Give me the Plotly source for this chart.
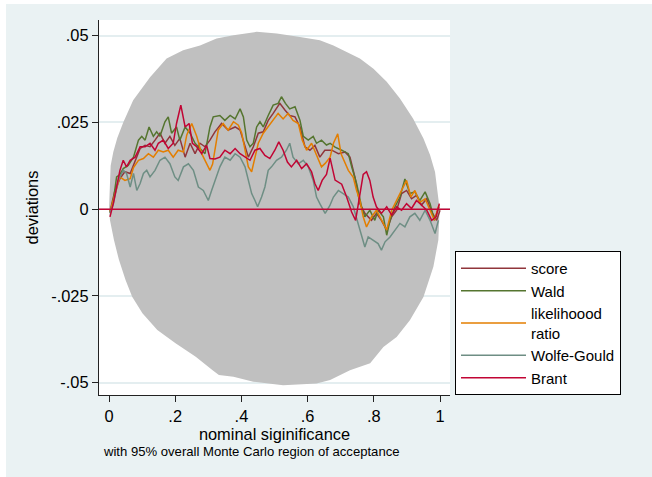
import plotly.graph_objects as go

# ---------------- data ----------------
env_upper_p = [0.000, 0.002, 0.005, 0.013, 0.025, 0.043, 0.073, 0.124, 0.174, 0.224, 0.275, 0.325,
               0.376, 0.446, 0.507, 0.577, 0.637, 0.678, 0.718, 0.758, 0.799, 0.839, 0.879,
               0.919, 0.950, 0.970, 0.985, 0.995, 0.999]
env_upper_v = [0.0000, 0.0080, 0.0125, 0.0165, 0.0205, 0.0250, 0.0314, 0.0380, 0.0434, 0.0458, 0.0472, 0.0492,
               0.0501, 0.0511, 0.0506, 0.0496, 0.0487, 0.0472, 0.0453, 0.0434, 0.0405, 0.0367, 0.0319,
               0.0261, 0.0204, 0.0156, 0.0107, 0.0040, 0.0000]
env_lower_p = [0.000, 0.003, 0.015, 0.030, 0.050, 0.070, 0.101, 0.146, 0.201, 0.262, 0.312, 0.332,
               0.376, 0.436, 0.526, 0.627, 0.668, 0.728, 0.789, 0.829, 0.869, 0.909, 0.950,
               0.980, 0.995, 0.999]
env_lower_v = [0.0000, -0.0032, -0.0089, -0.0146, -0.0204, -0.0252, -0.0300, -0.0348, -0.0386, -0.0425, -0.0463, -0.0478,
               -0.0483, -0.0497, -0.0507, -0.0502, -0.0492, -0.0464, -0.0444, -0.0397, -0.0368, -0.0320, -0.0253,
               -0.0166, -0.0089, 0.0000]

score_p = [0.003, 0.018, 0.033, 0.048, 0.064, 0.079, 0.094, 0.109, 0.124, 0.139, 0.154, 0.169, 0.184,
           0.199, 0.214, 0.230, 0.245, 0.260, 0.275, 0.290, 0.305, 0.320, 0.340, 0.360, 0.381, 0.396,
           0.406, 0.421, 0.436, 0.451, 0.466, 0.481, 0.496, 0.516, 0.532, 0.546, 0.562, 0.577, 0.592,
           0.607, 0.622, 0.637, 0.652, 0.673, 0.693, 0.713, 0.728, 0.743, 0.758, 0.773, 0.793, 0.808,
           0.823, 0.839, 0.854, 0.869, 0.884, 0.899, 0.914, 0.929, 0.944, 0.960, 0.975, 0.990, 1.000]
score_v = [-0.0007, 0.0054, 0.0088, 0.0108, 0.0103, 0.0141, 0.0175, 0.0184, 0.0180, 0.0199, 0.0219, 0.0190, 0.0210,
           0.0184, 0.0204, 0.0150, 0.0190, 0.0160, 0.0190, 0.0180, 0.0199, 0.0223, 0.0247, 0.0228, 0.0237, 0.0228,
           0.0199, 0.0150, 0.0180, 0.0219, 0.0223, 0.0256, 0.0276, 0.0305, 0.0285, 0.0270, 0.0266, 0.0237, 0.0180,
           0.0170, 0.0184, 0.0150, 0.0170, 0.0170, 0.0160, 0.0165, 0.0150, 0.0092, 0.0016, -0.0012, -0.0032, -0.0012,
           -0.0032, -0.0060, -0.0022, -0.0003, 0.0045, 0.0054, 0.0030, 0.0040, 0.0012, 0.0030, -0.0008, -0.0032, -0.0003]

wald_p = [0.003, 0.013, 0.023, 0.033, 0.043, 0.058, 0.074, 0.089, 0.099, 0.109, 0.121, 0.134, 0.144,
          0.154, 0.169, 0.179, 0.189, 0.204, 0.214, 0.230, 0.245, 0.260, 0.275, 0.290, 0.305, 0.315,
          0.335, 0.350, 0.366, 0.381, 0.396, 0.406, 0.416, 0.426, 0.436, 0.446, 0.456, 0.466, 0.481,
          0.496, 0.511, 0.521, 0.533, 0.546, 0.562, 0.577, 0.587, 0.602, 0.617, 0.627, 0.642, 0.657,
          0.668, 0.683, 0.703, 0.723, 0.733, 0.748, 0.763, 0.773, 0.788, 0.803, 0.813, 0.829, 0.839,
          0.849, 0.864, 0.879, 0.894, 0.909, 0.924, 0.939, 0.955, 0.970, 0.983, 0.997]
wald_v = [-0.0010, 0.0025, 0.0093, 0.0100, 0.0117, 0.0126, 0.0150, 0.0199, 0.0210, 0.0199, 0.0237, 0.0210, 0.0223,
          0.0210, 0.0252, 0.0266, 0.0219, 0.0237, 0.0199, 0.0237, 0.0219, 0.0190, 0.0175, 0.0160, 0.0237, 0.0266,
          0.0270, 0.0256, 0.0270, 0.0260, 0.0289, 0.0266, 0.0199, 0.0180, 0.0190, 0.0237, 0.0252, 0.0237, 0.0270,
          0.0300, 0.0305, 0.0324, 0.0305, 0.0289, 0.0295, 0.0256, 0.0210, 0.0199, 0.0210, 0.0190, 0.0199, 0.0185,
          0.0190, 0.0179, 0.0170, 0.0160, 0.0123, 0.0074, 0.0007, -0.0022, -0.0003, -0.0032, -0.0003, -0.0022, -0.0075,
          -0.0032, 0.0007, 0.0035, 0.0087, 0.0045, 0.0050, 0.0025, 0.0050, 0.0016, -0.0032, 0.0007]

lr_p = [0.003, 0.018, 0.033, 0.048, 0.064, 0.074, 0.089, 0.104, 0.119, 0.134, 0.149, 0.164, 0.179,
        0.194, 0.209, 0.225, 0.235, 0.250, 0.265, 0.280, 0.290, 0.305, 0.313, 0.325, 0.330, 0.345,
        0.360, 0.376, 0.391, 0.401, 0.411, 0.421, 0.431, 0.441, 0.451, 0.466, 0.481, 0.496, 0.511,
        0.526, 0.541, 0.556, 0.572, 0.584, 0.597, 0.612, 0.627, 0.642, 0.653, 0.668, 0.678, 0.691,
        0.701, 0.713, 0.723, 0.738, 0.748, 0.758, 0.768, 0.778, 0.793, 0.808, 0.823, 0.839, 0.854,
        0.869, 0.884, 0.899, 0.912, 0.924, 0.939, 0.955, 0.970, 0.983, 0.997]
lr_v = [-0.0007, 0.0045, 0.0093, 0.0083, 0.0088, 0.0120, 0.0141, 0.0146, 0.0160, 0.0150, 0.0170, 0.0165, 0.0170,
        0.0150, 0.0170, 0.0165, 0.0214, 0.0247, 0.0210, 0.0160, 0.0141, 0.0112, 0.0130, 0.0199, 0.0228, 0.0247,
        0.0228, 0.0252, 0.0242, 0.0219, 0.0170, 0.0122, 0.0108, 0.0150, 0.0190, 0.0219, 0.0237, 0.0256, 0.0276,
        0.0260, 0.0276, 0.0256, 0.0247, 0.0199, 0.0170, 0.0190, 0.0155, 0.0122, 0.0132, 0.0150, 0.0190, 0.0217,
        0.0160, 0.0132, 0.0112, 0.0092, 0.0054, 0.0025, -0.0022, -0.0051, -0.0022, -0.0003, -0.0032, -0.0060, -0.0003,
        0.0025, 0.0054, 0.0083, 0.0035, 0.0054, 0.0020, 0.0030, -0.0003, -0.0032, 0.0012]

wg_p = [0.003, 0.013, 0.028, 0.043, 0.053, 0.064, 0.074, 0.084, 0.094, 0.104, 0.114, 0.124, 0.139,
        0.154, 0.169, 0.184, 0.199, 0.209, 0.225, 0.240, 0.255, 0.270, 0.285, 0.300, 0.310, 0.325,
        0.335, 0.350, 0.366, 0.381, 0.396, 0.411, 0.421, 0.431, 0.441, 0.449, 0.461, 0.471, 0.481,
        0.491, 0.506, 0.521, 0.536, 0.546, 0.556, 0.572, 0.587, 0.602, 0.617, 0.627, 0.637, 0.647,
        0.653, 0.667, 0.678, 0.693, 0.708, 0.723, 0.738, 0.753, 0.763, 0.773, 0.783, 0.798, 0.813,
        0.823, 0.834, 0.849, 0.864, 0.879, 0.894, 0.909, 0.924, 0.939, 0.955, 0.970, 0.985, 0.995]
wg_v = [-0.0010, 0.0015, 0.0083, 0.0112, 0.0103, 0.0064, 0.0103, 0.0054, 0.0074, 0.0103, 0.0112, 0.0093, 0.0112,
        0.0141, 0.0150, 0.0131, 0.0093, 0.0083, 0.0122, 0.0131, 0.0112, 0.0064, 0.0054, 0.0025, 0.0054, 0.0093,
        0.0122, 0.0150, 0.0141, 0.0160, 0.0150, 0.0122, 0.0083, 0.0045, 0.0025, 0.0007, 0.0035, 0.0064, 0.0112,
        0.0122, 0.0141, 0.0150, 0.0170, 0.0190, 0.0150, 0.0131, 0.0141, 0.0122, 0.0083, 0.0035, 0.0016, -0.0003,
        -0.0012, 0.0010, 0.0035, 0.0054, 0.0045, 0.0035, 0.0007, -0.0041, -0.0080, -0.0109, -0.0080, -0.0089, -0.0099,
        -0.0118, -0.0094, -0.0080, -0.0060, -0.0041, -0.0051, -0.0022, -0.0012, -0.0032, -0.0003, -0.0032, -0.0070, -0.0032]

brant_p = [0.003, 0.013, 0.023, 0.033, 0.043, 0.053, 0.064, 0.079, 0.094, 0.109, 0.124, 0.139, 0.149,
           0.164, 0.179, 0.194, 0.204, 0.217, 0.230, 0.242, 0.252, 0.265, 0.280, 0.295, 0.305, 0.320,
           0.335, 0.350, 0.366, 0.381, 0.396, 0.411, 0.426, 0.441, 0.456, 0.471, 0.486, 0.501, 0.513,
           0.526, 0.539, 0.551, 0.567, 0.582, 0.597, 0.612, 0.622, 0.632, 0.644, 0.657, 0.668, 0.683,
           0.703, 0.718, 0.733, 0.745, 0.756, 0.768, 0.778, 0.788, 0.798, 0.808, 0.823, 0.839, 0.854,
           0.869, 0.884, 0.899, 0.914, 0.929, 0.944, 0.960, 0.975, 0.988, 0.998]
brant_v = [-0.0022, 0.0016, 0.0064, 0.0112, 0.0141, 0.0122, 0.0141, 0.0150, 0.0180, 0.0180, 0.0190, 0.0170, 0.0190,
           0.0199, 0.0175, 0.0190, 0.0247, 0.0300, 0.0237, 0.0247, 0.0190, 0.0180, 0.0160, 0.0184, 0.0146, 0.0145,
           0.0150, 0.0170, 0.0160, 0.0175, 0.0160, 0.0150, 0.0141, 0.0170, 0.0175, 0.0155, 0.0146, 0.0170, 0.0194,
           0.0170, 0.0136, 0.0122, 0.0141, 0.0117, 0.0131, 0.0108, 0.0074, 0.0054, 0.0083, 0.0100, 0.0147, 0.0084,
           0.0072, 0.0035, -0.0008, -0.0032, 0.0035, 0.0100, 0.0108, 0.0083, 0.0035, 0.0007, -0.0012, 0.0007, -0.0017,
           0.0007, -0.0003, 0.0016, 0.0002, 0.0025, 0.0012, -0.0003, -0.0032, -0.0022, 0.0016]

x_ticks = [0, 0.2, 0.4, 0.6, 0.8, 1]
x_tick_labels = ["0", ".2", ".4", ".6", ".8", "1"]
y_ticks = [-0.05, -0.025, 0, 0.025, 0.05]
y_tick_labels = ["-.05", "-.025", "0", ".025", ".05"]

series = [
    ("score", score_p, score_v, "#90353b"),
    ("Wald", wald_p, wald_v, "#55752f"),
    ("likelihoood<br>ratio", lr_p, lr_v, "#e37e00"),
    ("Wolfe-Gould", wg_p, wg_v, "#6e8e84"),
    ("Brant", brant_p, brant_v, "#c10534"),
]

FONT = "Liberation Sans, Arial, sans-serif"

fig = go.Figure()

# Monte Carlo acceptance region (closed polygon)
fig.add_trace(go.Scatter(
    x=env_upper_p + env_lower_p[::-1],
    y=env_upper_v + env_lower_v[::-1],
    fill="toself", fillcolor="#c0c0c0", mode="lines",
    line=dict(width=0, color="#c0c0c0"), hoverinfo="skip", showlegend=False))

for name, xp, yv, col in series:
    fig.add_trace(go.Scatter(x=xp, y=yv, mode="lines", name=name,
                             line=dict(color=col, width=1.5)))

# plot geometry (px)
L, R, T, B = 99, 450, 20, 395
W, H = 652, 477
pw, ph = R - L, B - T

def px_x(px):
    return (px - L) / pw

def px_y(py):
    return (B - py) / ph

shapes = [
    # white border strips of the outer frame
    dict(type="rect", xref="paper", yref="paper", x0=px_x(0), x1=px_x(6), y0=px_y(W), y1=px_y(0),
         fillcolor="white", line=dict(width=0), layer="below"),
    dict(type="rect", xref="paper", yref="paper", x0=px_x(0), x1=px_x(W), y0=px_y(4), y1=px_y(0),
         fillcolor="white", line=dict(width=0), layer="below"),
    # zero reference line
    dict(type="line", xref="paper", yref="y", x0=0, x1=1, y0=0, y1=0,
         line=dict(color="#c10534", width=1.5), layer="above"),
]

fig.update_layout(
    width=W, height=H,
    margin=dict(l=L, r=W - R, t=T, b=H - B, autoexpand=False),
    paper_bgcolor="#eaf2f3", plot_bgcolor="white",
    font=dict(family=FONT, size=16.4, color="black"),
    shapes=shapes,
    showlegend=True,
    legend=dict(x=px_x(455), y=px_y(251), xanchor="left", yanchor="top",
                bgcolor="white", bordercolor="black", borderwidth=1,
                font=dict(family=FONT, size=15, color="black"),
                itemwidth=65, tracegroupgap=0),
    annotations=[dict(text="with 95% overall Monte Carlo region of acceptance",
                      xref="paper", yref="paper", x=px_x(101), y=px_y(452),
                      xanchor="left", yanchor="middle", showarrow=False,
                      font=dict(family=FONT, size=13.1, color="black"))],
)

fig.update_xaxes(range=[-0.0302, 1.0302], tickvals=x_ticks, ticktext=x_tick_labels,
                 showgrid=False, zeroline=False, showline=True, linecolor="#222", linewidth=1.3,
                 ticks="outside", ticklen=6, tickcolor="#222", tickwidth=1.2,
                 title=dict(text="nominal siginificance", standoff=1,
                            font=dict(family=FONT, size=16.4, color="black")))
fig.update_yaxes(range=[-0.05354, 0.05452], tickvals=y_ticks, ticktext=y_tick_labels,
                 showgrid=True, gridcolor="#e4eef0", gridwidth=1.5, zeroline=False,
                 showline=True, linecolor="#222", linewidth=1.3,
                 ticks="outside", ticklen=6, tickcolor="#222", tickwidth=1.2,
                 title=dict(text="deviations", standoff=8,
                            font=dict(family=FONT, size=16.4, color="black")))

fig.write_html("out.html")
